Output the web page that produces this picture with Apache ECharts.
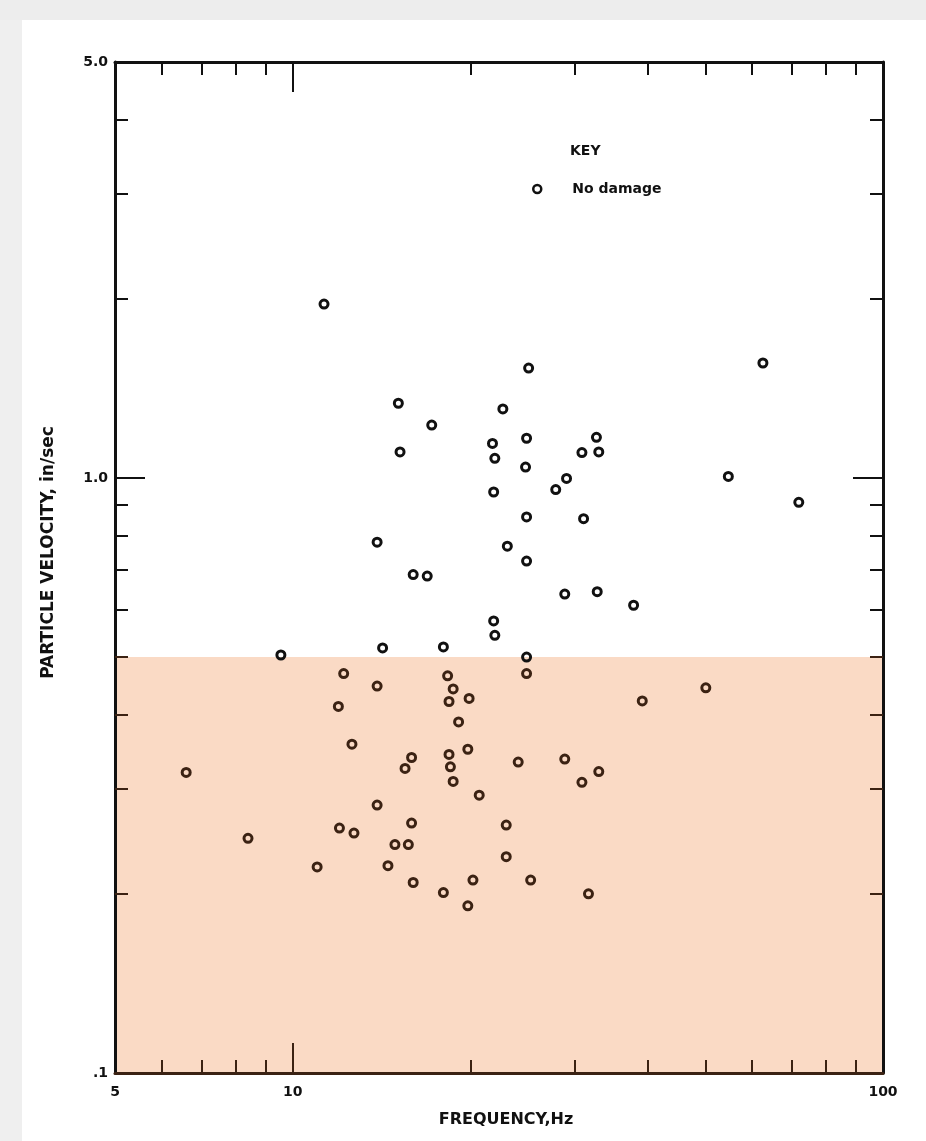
<!DOCTYPE html>
<html>
<head>
<meta charset="utf-8">
<script src="https://cdn.jsdelivr.net/npm/echarts@6/dist/echarts.min.js"></script>
<style>
html,body{margin:0;padding:0;background:#fff;}
#chart{width:926px;height:1141px;}
</style>
</head>
<body>
<div id="chart"></div>
<script>
// ---- data ----
const frequencyHz = [
  11.3, 25.1, 62.6, 15.1, 22.7, 17.2, 21.8, 24.9, 32.7, 15.2,
  22.0, 30.9, 33.0, 24.8, 54.7, 29.1, 27.9, 21.9, 72.0, 24.9,
  31.1, 23.1, 13.9, 16.0, 16.9, 24.9, 28.9, 32.8, 37.8, 21.9,
  22.0, 14.2, 18.0, 9.55, 24.9,
  12.2, 18.3, 24.9, 13.9, 50.1, 18.7, 39.1, 18.4, 19.9, 11.95,
  19.1, 12.6, 19.8, 18.4, 15.9, 28.9, 24.1, 15.5, 18.5, 6.6,
  33.0, 18.7, 30.9, 20.7, 13.9, 12.0, 12.7, 15.9, 8.4, 14.9,
  15.7, 23.0, 23.0, 11.0, 14.5, 16.0, 20.2, 25.3, 18.0, 31.7,
  19.8
];
const velocityInSec = [
  1.96, 1.53, 1.56, 1.335, 1.306, 1.227, 1.143, 1.166, 1.17, 1.106,
  1.079, 1.103, 1.106, 1.043, 1.006, 0.998, 0.956, 0.947, 0.910, 0.860,
  0.854, 0.768, 0.780, 0.688, 0.684, 0.725, 0.638, 0.644, 0.611, 0.575,
  0.544, 0.518, 0.520, 0.504, 0.500,
  0.469, 0.465, 0.469, 0.447, 0.444, 0.442, 0.422, 0.421, 0.426, 0.413,
  0.389, 0.357, 0.350, 0.343, 0.339, 0.337, 0.333, 0.325, 0.327, 0.320,
  0.321, 0.309, 0.308, 0.293, 0.282, 0.258, 0.253, 0.263, 0.248, 0.242,
  0.242, 0.261, 0.231, 0.222, 0.223, 0.209, 0.211, 0.211, 0.201, 0.200,
  0.191
];
const shadeTop = 0.5;             // upper edge of the shaded band, in/sec
const xRange = [5, 100];
const yRange = [0.1, 5];
const xLabelValues = [5, 10, 100];
const xLabelTexts = ['5', '10', '100'];
const yLabelValues = [0.1, 1, 5];
const yLabelTexts = ['.1', '1.0', '5.0'];
const xMinorTicks = [6, 7, 8, 9, 20, 30, 40, 50, 60, 70, 80, 90];
const xMajorTicks = [10];
const yMinorUpper = [0.6, 0.7, 0.8, 0.9, 2, 3, 4];
const yMinorLower = [0.2, 0.3, 0.4, 0.5];
const yMajorTicks = [1];
const seriesName = 'No damage';
const keyTitle = 'KEY';
const xTitle = 'FREQUENCY,Hz';
const yTitle = 'PARTICLE VELOCITY, in/sec';

// ---- styles ----
const BLACK = '#111111';
const BROWN = '#3b2213';
const PINK = '#fadac5';
const FONT = "'DejaVu Sans','Liberation Sans',Arial,sans-serif";

const pts = frequencyHz.map((f, i) => [f, velocityInSec[i]]);
const upper = pts.filter(p => p[1] >= shadeTop);
const lower = pts.filter(p => p[1] < shadeTop);

function lbl(vals, texts) {
  return function (v) {
    for (let i = 0; i < vals.length; i++) {
      if (Math.abs(v - vals[i]) / vals[i] < 1e-6) return texts[i];
    }
    return '';
  };
}

function baseAx(range, position, ticks, len, color, extra) {
  return Object.assign({
    type: 'log', logBase: 10, min: range[0], max: range[1], position: position,
    gridIndex: 0, z: 10,
    axisLine: { show: false },
    axisTick: { show: true, inside: true, length: len, customValues: ticks,
      lineStyle: { color: color, width: 2 } },
    axisLabel: { show: false },
    splitLine: { show: false },
    minorTick: { show: false }
  }, extra || {});
}
const xAx = (...a) => baseAx(xRange, ...a);
const yAx = (...a) => baseAx(yRange, ...a);

const chart = echarts.init(document.getElementById('chart'), null, { renderer: 'canvas' });
chart.setOption({
  backgroundColor: '#ffffff',
  animation: false,
  grid: { left: 115, right: 43, top: 62, bottom: 68, containLabel: false },
  graphic: [
    { type: 'rect', left: 0, top: 0, shape: { width: 22, height: 1141 }, style: { fill: '#efefef' }, z: -10 },
    { type: 'rect', left: 0, top: 0, shape: { width: 926, height: 20 }, style: { fill: '#ededed' }, z: -10 },
    { type: 'text', left: 570, top: 144, style: { text: keyTitle, fill: BLACK,
      font: 'bold 14px ' + FONT } }
  ],
  legend: {
    data: [{ name: seriesName, icon: 'circle',
      itemStyle: { color: 'rgba(0,0,0,0)', borderColor: BLACK, borderWidth: 2.5 } }],
    left: 527, top: 177,
    itemWidth: 12, itemHeight: 8,
    textStyle: { color: BLACK, fontWeight: 'bold', fontSize: 14, fontFamily: FONT, padding: [0, 0, 0, 24] },
    selectedMode: false
  },
  xAxis: [
    xAx('bottom', xMinorTicks, 13, BROWN, {
      axisLine: { show: true, lineStyle: { color: BROWN, width: 3 } },
      axisLabel: { show: true, customValues: xLabelValues, formatter: lbl(xLabelValues, xLabelTexts),
        color: BLACK, fontWeight: 'bold', fontSize: 14, fontFamily: FONT, margin: 12 },
      name: xTitle, nameLocation: 'middle', nameGap: 39,
      nameTextStyle: { color: BLACK, fontWeight: 'bold', fontSize: 16, fontFamily: FONT, padding: [0, 0, 0, 14] }
    }),
    xAx('bottom', xMajorTicks, 30, BROWN),
    xAx('top', xMinorTicks, 13, BLACK, {
      axisLine: { show: true, lineStyle: { color: BLACK, width: 3 } }
    }),
    xAx('top', xMajorTicks, 30, BLACK)
  ],
  yAxis: [
    yAx('left', yMinorUpper, 13, BLACK, {
      axisLine: { show: true, lineStyle: { color: BLACK, width: 3 } },
      axisLabel: { show: true, customValues: yLabelValues, formatter: lbl(yLabelValues, yLabelTexts),
        color: BLACK, fontWeight: 'bold', fontSize: 14, fontFamily: FONT, margin: 7 },
      name: yTitle, nameLocation: 'middle', nameGap: 58,
      nameTextStyle: { color: BLACK, fontWeight: 'bold', fontSize: 17, fontFamily: FONT, padding: [0, 0, 0, 30] }
    }),
    yAx('left', yMajorTicks, 30, BLACK),
    yAx('left', yMinorLower, 13, BROWN),
    yAx('right', yMinorUpper, 13, BLACK, {
      axisLine: { show: true, lineStyle: { color: BLACK, width: 3 } }
    }),
    yAx('right', yMajorTicks, 30, BLACK),
    yAx('right', yMinorLower, 13, BROWN)
  ],
  series: [
    {
      type: 'scatter', name: 'shade', xAxisIndex: 0, yAxisIndex: 0, data: [],
      z: 1, silent: true,
      markArea: {
        silent: true,
        itemStyle: { color: PINK, opacity: 1 },
        data: [[{ coord: [xRange[0], yRange[0]] }, { coord: [xRange[1], shadeTop] }]]
      }
    },
    {
      type: 'scatter', name: seriesName, xAxisIndex: 0, yAxisIndex: 0, z: 5,
      data: upper, symbol: 'circle', symbolSize: 8,
      itemStyle: { color: 'rgba(0,0,0,0)', borderColor: BLACK, borderWidth: 3, opacity: 1 }
    },
    {
      type: 'scatter', name: seriesName, xAxisIndex: 0, yAxisIndex: 0, z: 5,
      data: lower, symbol: 'circle', symbolSize: 8,
      itemStyle: { color: 'rgba(0,0,0,0)', borderColor: BROWN, borderWidth: 3, opacity: 1 }
    }
  ]
});
</script>
</body>
</html>
